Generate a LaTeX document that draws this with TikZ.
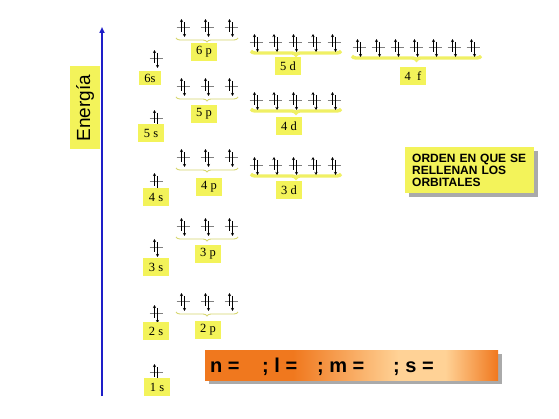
\documentclass[tikz,border=0pt]{standalone}
\usepackage{fontspec}
\setmainfont{Liberation Serif}
\setsansfont{Liberation Sans}
\usetikzlibrary{arrows.meta,decorations.pathreplacing}
\definecolor{ylw}{RGB}{243,243,90}
\definecolor{brcp}{RGB}{215,215,110}
\definecolor{brcd}{RGB}{240,240,100}
\definecolor{oA}{RGB}{240,120,30}
\definecolor{oL}{RGB}{255,210,150}
\definecolor{eblue}{RGB}{30,30,200}
\definecolor{shd}{RGB}{170,170,170}
\pgfdeclarehorizontalshading{orsh}{100bp}{color(0bp)=(oA); color(25bp)=(oA); color(40bp)=(oA); color(58bp)=(oL); color(66bp)=(oL); color(75bp)=(oA); color(100bp)=(oA)}
\tikzset{
  arr/.style={line width=0.55pt,-{Stealth[length=3pt,width=3pt]}},
  orb/.pic={
    \draw[gray,line width=0.6pt] (-6.5,0) -- (6.5,0);
    \draw[arr] (-1.5,5) -- (-1.5,-8);
    \draw[arr] (1.5,-5) -- (1.5,10);
  },
  lbl/.style={fill=ylw, minimum width=26pt, minimum height=18pt, inner sep=0pt, font=\fontsize{12.5}{14}\selectfont},
  bracep/.style={decorate, decoration={brace,mirror,amplitude=4pt}, brcp, line width=0.9pt},
  braced/.style={decorate, decoration={brace,mirror,amplitude=4pt}, brcd, line width=3.4pt},
  ortext/.style={anchor=base west, inner sep=0pt, font=\sffamily\bfseries\fontsize{20}{24}\selectfont}
}
\begin{document}
\begin{tikzpicture}[x=1pt,y=-1pt]
\useasboundingbox (0,0) rectangle (559,419);
\fill[white] (0,0) rectangle (559,419);
% energy axis
\coordinate (ebot) at (102,396);
\coordinate (etop) at (102,27);
\draw[eblue, line width=1.6pt, -{Triangle[length=6pt,width=5pt]}] (ebot) -- (etop);
\node[fill=ylw, rotate=90, minimum width=83pt, minimum height=30pt, inner sep=0pt, font=\sffamily\fontsize{19}{22}\selectfont] (energia) at (85,108) {Energía};
% braces p
\foreach \y in {27,86,157,226,301} {
  \draw[bracep] (176,\y+11) -- (238,\y+11);
}
% braces d
\foreach \y in {42,100,165} {
  \draw[braced] (251,\y+9) -- (341,\y+9);
}
% brace f
\draw[braced] (352,56) -- (481,56);
% s orbitals
\foreach \y in {58,118,181,247,313,372} { \pic at (156,\y) {orb}; }
% p orbitals
\foreach \y in {27,86,157,226,301} {
  \foreach \x in {183,207,231} { \pic at (\x,\y) {orb}; }
}
% d orbitals
\foreach \y in {42,100,165} {
  \foreach \i in {0,...,4} { \pic at (256+19.5*\i,\y) {orb}; }
}
% f orbitals
\foreach \i in {0,...,6} { \pic at (359+19*\i,47) {orb}; }
% labels
\node[lbl, minimum width=22pt, minimum height=14pt] (l6s) at (150,78) {6s};
\node[lbl] (l5s) at (151,133) {5 s};
\node[lbl] (l4s) at (156,197) {4 s};
\node[lbl] (l3s) at (156,267) {3 s};
\node[lbl] (l2s) at (156,331) {2 s};
\node[lbl] (l1s) at (157,387) {1 s};
\node[lbl] (l6p) at (204,52) {6 p};
\node[lbl] (l5p) at (204,114) {5 p};
\node[lbl] (l4p) at (209,187) {4 p};
\node[lbl] (l3p) at (208,254) {3 p};
\node[lbl] (l2p) at (208,330) {2 p};
\node[lbl] (l5d) at (288,66) {5 d};
\node[lbl] (l4d) at (289,126) {4 d};
\node[lbl] (l3d) at (289,190) {3 d};
\node[lbl] (l4f) at (413,76) {4\enspace f};
% orden box
\fill[shd] (409,151) rectangle (538,197);
\node[fill=ylw, anchor=north west, minimum width=129pt, minimum height=46pt, inner xsep=7pt, inner ysep=0pt, text width=115pt, align=left, font=\sffamily\bfseries\fontsize{12}{11.8}\selectfont] (orden) at (405,147) {ORDEN EN QUE SE\\RELLENAN LOS\\ORBITALES};
% quantum numbers box
\fill[shd] (209,354) rectangle (502,384);
\shade[shading=orsh] (205,350) rectangle (498,380);
\node[ortext] (qn) at (210,372) {n =};
\node[ortext] (ql) at (262,372) {; l =};
\node[ortext] (qm) at (317,372) {; m =};
\node[ortext] (qs) at (393,372) {; s =};
\end{tikzpicture}
\end{document}
